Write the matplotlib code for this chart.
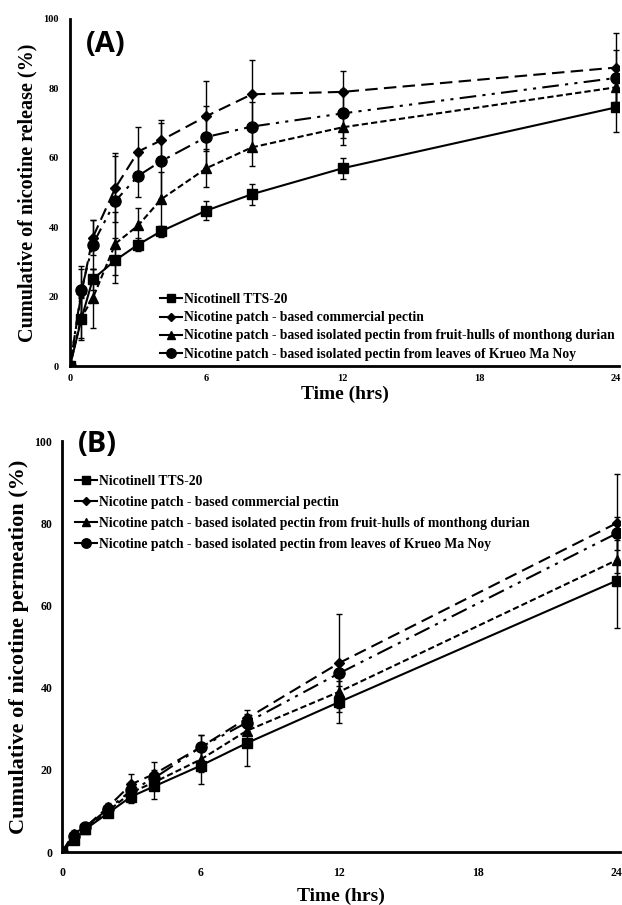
import matplotlib
matplotlib.use("Agg")
import matplotlib.pyplot as plt
from matplotlib.lines import Line2D

time_hrs = [0, 0.5, 1, 2, 3, 4, 6, 8, 12, 24]
series_names = [
    "Nicotinell TTS-20",
    "Nicotine patch - based commercial pectin",
    "Nicotine patch - based isolated pectin from fruit-hulls of monthong durian",
    "Nicotine patch - based isolated pectin from leaves of Krueo Ma Noy",
]

# Panel A: cumulative release (%)
rel_nicotinell = [0, 13.5, 25, 30.5, 35, 38.8, 44.8, 49.5, 57, 74.5]
rel_commercial = [0, 21, 37, 51.4, 61.8, 65, 72, 78.3, 79, 86]
rel_durian = [0, 14, 19.5, 35.3, 40.5, 48, 57, 63, 68.8, 80.3]
rel_krueo = [0, 21.8, 35, 47.6, 54.8, 59, 66, 69, 72.8, 83]
rel_nicotinell_err = [0, 6, 3, 6.5, 2, 1.5, 2.8, 3, 3, 7]
rel_commercial_err = [0, 7, 5, 10, 7, 6, 10, 10, 6, 10]
rel_durian_err = [0, 6, 8.5, 9, 5, 8, 5.5, 5.5, 5, 6]
rel_krueo_err = [0, 7, 7, 13, 6, 11, 9, 7, 7, 8]

# Panel B: cumulative permeation (%)
perm_nicotinell = [0, 3, 5.5, 9.5, 13.5, 16, 21, 26.5, 36.5, 66]
perm_commercial = [0, 4.5, 6, 11, 16.5, 19, 25.5, 32.5, 46, 80]
perm_durian = [0, 3.5, 5.5, 10, 14.5, 17, 22.5, 29.5, 39, 71]
perm_krueo = [0, 4, 6, 10.5, 15, 18, 25.5, 31.5, 43.5, 77.5]
perm_nicotinell_err = [0, 0.8, 0.8, 1, 1.5, 3, 4.5, 5.5, 5, 11.5]
perm_commercial_err = [0, 0.8, 0.8, 1, 2.5, 3, 3, 2, 12, 12]
perm_durian_err = [0, 0.8, 0.8, 1, 1.5, 2, 3, 3, 4, 5]
perm_krueo_err = [0, 0.8, 0.8, 1, 1.5, 2, 3, 2, 3, 4]

x_ticks = [0, 6, 12, 18, 24]
y_ticks = [0, 20, 40, 60, 80, 100]

serif = ["Liberation Serif", "DejaVu Serif"]
styles = [
    dict(marker="s", ms=7, ls="-"),
    dict(marker="D", ms=5, ls=(0, (6, 3))),
    dict(marker="^", ms=7, ls=(0, (3, 1.5))),
    dict(marker="o", ms=8, ls=(0, (8, 3, 1.5, 3, 1.5, 3))),
]

fig = plt.figure(figsize=(6.22, 9.05), dpi=100)


def panel(rect, data, errs, ylabel, tag, tag_xy, ylabel_size, leg_loc, ypad,
          xpad, xlabelpad, ticksize, legspacing):
    ax = fig.add_axes(rect)
    for name, y, e, st in zip(series_names, data, errs, styles):
        ax.errorbar(time_hrs, y, yerr=e, color="black", lw=1.5,
                    elinewidth=1.0, capsize=2, capthick=1.0,
                    marker=st["marker"], ms=st["ms"], ls=st["ls"],
                    zorder=3)
    ax.set_xlim(0, 24.15)
    ax.set_ylim(0, 100)
    ax.set_xticks(x_ticks)
    ax.set_yticks(y_ticks)
    for s in ["top", "right"]:
        ax.spines[s].set_visible(False)
    for s in ["left", "bottom"]:
        ax.spines[s].set_linewidth(2)
    ax.tick_params(length=0, labelsize=ticksize)
    ax.tick_params(axis="y", pad=ypad)
    ax.tick_params(axis="x", pad=xpad)
    for lab in ax.get_xticklabels() + ax.get_yticklabels():
        lab.set_family(serif)
        lab.set_fontweight("bold")
    ax.set_xlabel("Time (hrs)", family=serif, fontweight="bold", fontsize=14,
                  labelpad=xlabelpad)
    ax.set_ylabel(ylabel, family=serif, fontweight="bold", fontsize=ylabel_size,
                  labelpad=4)
    ax.text(tag_xy[0], tag_xy[1], tag, transform=fig.transFigure,
            family=["Open Sans", "DejaVu Sans"], fontweight="bold", fontsize=21,
            ha="left", va="center")
    handles = [Line2D([], [], color="black", lw=1.5, marker=st["marker"],
                      ms=st["ms"] * 0.85, ls="-") for st in styles]
    ax.legend(handles, series_names, loc="upper left", bbox_to_anchor=leg_loc,
              frameon=False, handlelength=1.6, handletextpad=0.15,
              labelspacing=legspacing, borderaxespad=0, borderpad=0,
              prop=dict(family=serif, weight="bold", size=9.8))
    return ax


panel([70 / 622, 1 - 366 / 905, 549 / 622, 347 / 905],
      [rel_nicotinell, rel_commercial, rel_durian, rel_krueo],
      [rel_nicotinell_err, rel_commercial_err, rel_durian_err, rel_krueo_err],
      "Cumulative of nicotine release (%)", "(A)", (86 / 622, 1 - 44 / 905), 14.5,
      (0.164, 0.21), 8, 6, 2, 7.5, 0.38)

panel([62 / 622, 1 - 852 / 905, 558 / 622, 411 / 905],
      [perm_nicotinell, perm_commercial, perm_durian, perm_krueo],
      [perm_nicotinell_err, perm_commercial_err, perm_durian_err, perm_krueo_err],
      "Cumulative of nicotine permeation (%)", "(B)", (78 / 622, 1 - 445 / 905), 16,
      (0.023, 0.917), 7, 11, 6, 8.5, 0.58)

fig.savefig("out.png", dpi=100)
